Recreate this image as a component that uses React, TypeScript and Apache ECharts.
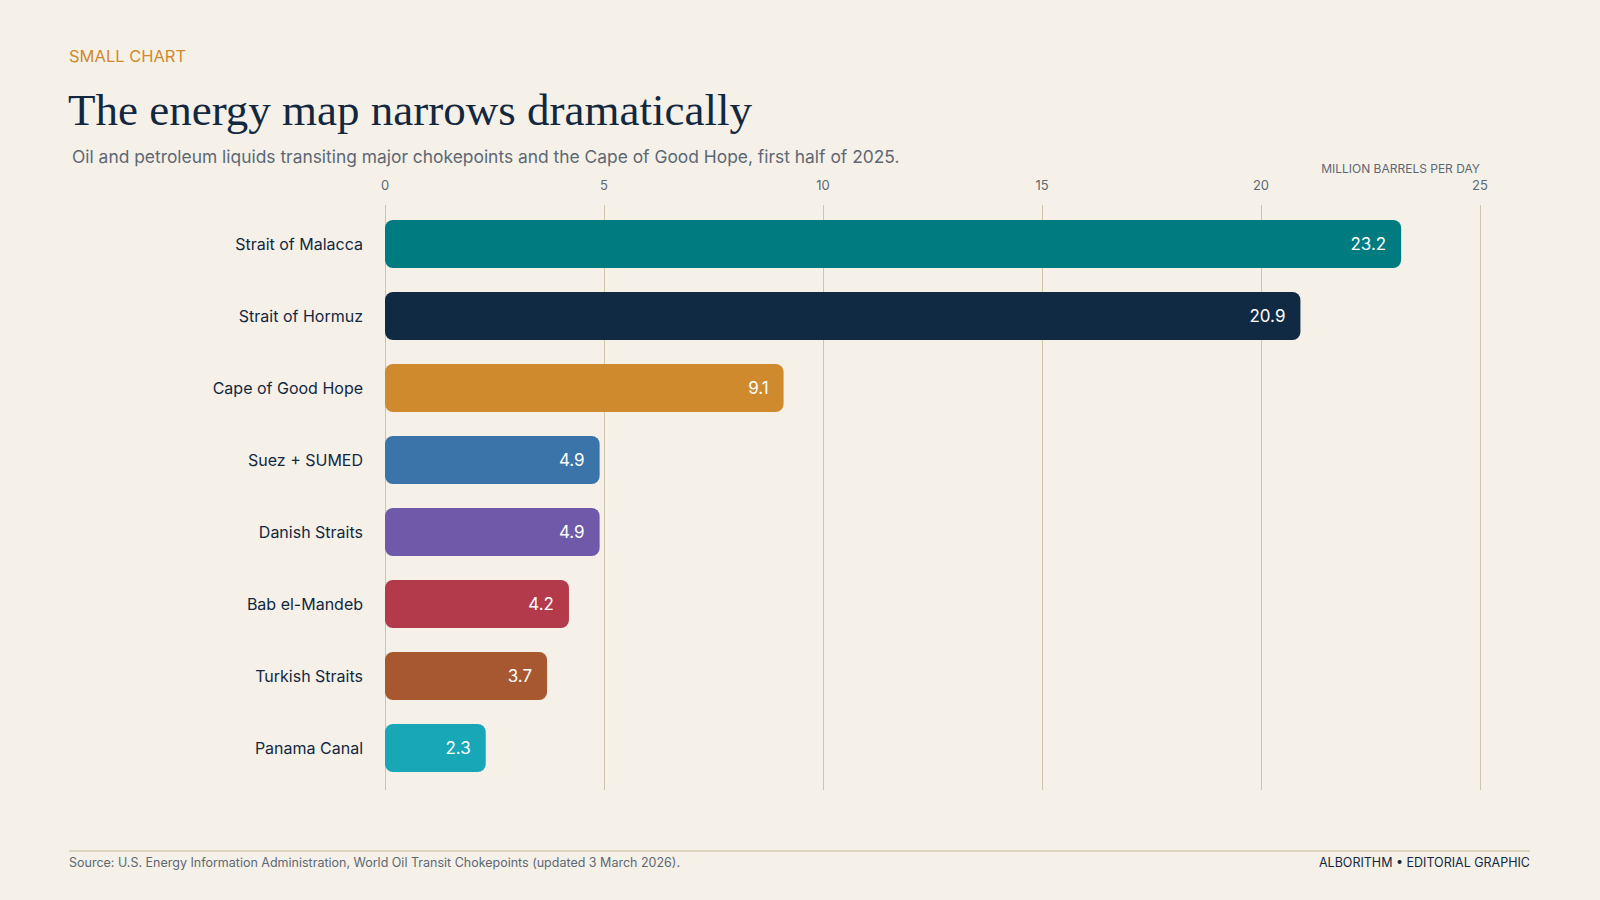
import React, { useEffect, useRef } from 'react';
import * as echarts from 'echarts';

// Chokepoint flows, first half of 2025 (million barrels per day)
const categories = [
  'Strait of Malacca',
  'Strait of Hormuz',
  'Cape of Good Hope',
  'Suez + SUMED',
  'Danish Straits',
  'Bab el-Mandeb',
  'Turkish Straits',
  'Panama Canal'
];
const values = [23.2, 20.9, 9.1, 4.9, 4.9, 4.2, 3.7, 2.3];
const barColors = ['#007c80', '#102a43', '#d08a2e', '#3a74a8', '#6e5aa8', '#b33a4a', '#a85830', '#18a7b7'];
const xTicks = [0, 5, 10, 15, 20, 25];

const SANS = 'Inter, "Noto Sans", sans-serif';
const INK = '#13283f';
const GREY = '#5d6873';

export default function App() {
  const chartRef = useRef<HTMLDivElement>(null);

  useEffect(() => {
    if (!chartRef.current) return;
    const chart = echarts.init(chartRef.current, null, { renderer: 'svg' });

    const option: echarts.EChartsOption = {
      animation: false,
      backgroundColor: '#f5f1e9',
      textStyle: { fontFamily: SANS },
      grid: [
        { left: 385, right: 120, top: 208, height: 576 },
        { left: 385, right: 120, top: 205, height: 585 }
      ],
      xAxis: [
        {
          type: 'value',
          gridIndex: 0,
          min: xTicks[0],
          max: xTicks[xTicks.length - 1],
          interval: 5,
          axisLine: { show: false },
          axisTick: { show: false },
          axisLabel: { show: false },
          splitLine: { show: false }
        },
        {
          // gridlines + top tick labels
          type: 'value',
          gridIndex: 1,
          position: 'top',
          min: xTicks[0],
          max: xTicks[xTicks.length - 1],
          interval: 5,
          axisLine: { show: false },
          axisTick: { show: false },
          axisLabel: { color: GREY, fontSize: 13, margin: 14, fontFamily: SANS },
          splitLine: { show: true, lineStyle: { color: '#cfc5aa', width: 1 } }
        }
      ],
      yAxis: [
        {
          type: 'category',
          gridIndex: 0,
          data: categories,
          inverse: true,
          axisLine: { show: false },
          axisTick: { show: false },
          axisLabel: { color: INK, fontSize: 16, margin: 22, fontFamily: SANS }
        },
        {
          type: 'category',
          gridIndex: 1,
          data: categories,
          show: false
        }
      ],
      series: [
        {
          type: 'bar',
          xAxisIndex: 0,
          yAxisIndex: 0,
          barWidth: 48,
          data: values.map((v, i) => ({
            value: v,
            itemStyle: { color: barColors[i], borderRadius: 8 }
          })),
          label: {
            show: true,
            position: 'insideRight',
            distance: 15,
            color: '#ffffff',
            fontSize: 17,
            fontFamily: SANS,
            formatter: (p: any) => p.value.toFixed(1)
          }
        }
      ],
      graphic: [
        {
          type: 'text',
          left: 69,
          top: 47,
          style: { text: 'SMALL CHART', fill: '#d08a2c', font: `16.5px ${SANS}` }
        },
        {
          type: 'text',
          left: 68,
          top: 87,
          style: {
            text: 'The energy map narrows dramatically',
            fill: INK,
            font: '45px "Liberation Serif", "DejaVu Serif", serif'
          }
        },
        {
          type: 'text',
          left: 72,
          top: 148,
          style: {
            text: 'Oil and petroleum liquids transiting major chokepoints and the Cape of Good Hope, first half of 2025.',
            fill: GREY,
            font: `17.4px ${SANS}`
          }
        },
        {
          type: 'text',
          right: 120,
          top: 162,
          style: { text: 'MILLION BARRELS PER DAY', fill: GREY, font: `12px ${SANS}` }
        },
        {
          type: 'line',
          shape: { x1: 69, y1: 851, x2: 1530, y2: 851 },
          style: { stroke: '#d6ccb4', lineWidth: 1.5 }
        },
        {
          type: 'text',
          left: 69,
          top: 856,
          style: {
            text: 'Source: U.S. Energy Information Administration, World Oil Transit Chokepoints (updated 3 March 2026).',
            fill: GREY,
            font: `12.5px ${SANS}`
          }
        },
        {
          type: 'text',
          right: 70,
          top: 856,
          style: {
            text: 'ALBORITHM \u2022 EDITORIAL GRAPHIC',
            fill: INK,
            font: `12.5px ${SANS}`
          }
        }
      ]
    };

    chart.setOption(option);

    return () => {
      chart.dispose();
    };
  }, []);

  return (
    <div
      ref={chartRef}
      style={{ position: 'fixed', left: 0, top: 0, width: '1600px', height: '900px' }}
    />
  );
}
